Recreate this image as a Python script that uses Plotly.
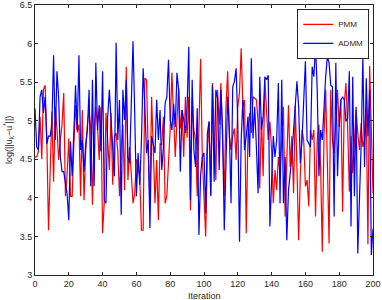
import plotly.graph_objects as go

iterations = list(range(0, 201))

pmm = [4.53, 4.53, 4.60, 5.05, 4.50, 5.40, 5.46, 4.75, 3.58, 4.32,
       5.12, 4.21, 5.18, 4.90, 4.49, 4.75, 4.95, 5.36, 4.02, 4.30,
       4.77, 4.02, 4.02, 4.70, 5.20, 4.85, 4.95, 4.02, 5.14, 3.97,
       4.60, 4.95, 5.14, 4.88, 3.91, 4.90, 5.18, 4.92, 4.49, 5.18,
       3.54, 3.95, 5.10, 4.75, 4.36, 5.10, 4.17, 4.80, 4.84, 4.60,
       4.02, 4.65, 4.95, 4.10, 5.70, 4.23, 4.66, 4.30, 3.93, 4.05,
       4.50, 4.42, 4.25, 3.58, 3.58, 5.55, 5.53, 4.58, 3.93, 5.31,
       4.50, 3.93, 4.49, 3.71, 4.70, 4.69, 5.05, 3.93, 4.02, 4.38,
       4.90, 5.62, 4.98, 4.53, 5.00, 5.42, 4.90, 5.14, 4.53, 5.31,
       4.78, 5.31, 3.84, 5.29, 4.88, 4.75, 4.02, 4.95, 5.80, 4.53,
       4.02, 3.50, 4.60, 4.99, 4.04, 5.49, 4.88, 4.23, 5.40, 4.95,
       5.49, 4.75, 4.02, 5.18, 5.64, 4.80, 4.62, 4.80, 4.90, 4.49,
       5.18, 5.36, 5.94, 5.18, 5.27, 3.54, 4.80, 5.10, 4.84, 5.31,
       5.29, 5.27, 4.99, 4.12, 5.05, 4.28, 5.53, 5.05, 4.75, 4.99,
       4.62, 3.93, 4.36, 4.10, 4.53, 4.32, 4.84, 5.18, 3.76, 4.53,
       5.20, 4.40, 4.80, 4.06, 5.20, 4.40, 3.45, 4.30, 4.88, 4.75,
       4.15, 4.23, 3.89, 4.88, 4.75, 4.88, 3.76, 4.75, 4.95, 4.40,
       3.30, 4.80, 5.40, 4.45, 3.41, 5.40, 4.75, 4.58, 5.05, 5.40,
       4.92, 5.27, 3.82, 5.22, 5.49, 4.92, 4.08, 4.80, 4.32, 4.75,
       5.14, 4.84, 4.62, 4.97, 4.66, 4.75, 5.18, 3.40, 5.71, 4.90,
       4.06]

admm = [5.16, 4.66, 4.62, 5.31, 5.40, 5.10, 5.31, 4.70, 4.80, 4.80,
        4.95, 5.85, 4.75, 5.64, 5.30, 4.53, 4.34, 4.34, 4.19, 4.05,
        3.71, 4.73, 4.28, 4.95, 5.46, 4.88, 5.85, 4.62, 4.75, 4.34,
        4.70, 4.88, 5.40, 4.15, 5.53, 4.15, 5.75, 4.88, 5.20, 4.60,
        5.64, 3.97, 3.93, 5.05, 5.40, 5.01, 4.70, 4.28, 6.01, 4.75,
        5.27, 3.78, 5.40, 5.01, 5.53, 4.53, 4.45, 5.20, 6.03, 5.10,
        4.02, 4.58, 4.17, 4.75, 5.68, 5.18, 4.58, 4.75, 3.61, 4.80,
        4.66, 4.58, 5.27, 4.75, 5.14, 4.36, 4.66, 5.23, 5.31, 5.79,
        5.01, 4.88, 5.22, 4.92, 5.62, 5.40, 4.34, 5.14, 5.01, 4.84,
        5.18, 5.96, 3.97, 5.53, 4.62, 4.40, 5.16, 3.52, 4.30, 4.53,
        4.58, 3.80, 4.84, 4.99, 4.02, 5.46, 4.21, 5.40, 5.29, 4.36,
        5.40, 4.88, 3.58, 4.66, 5.31, 4.88, 3.93, 5.44, 5.51, 5.68,
        4.97, 3.43, 4.75, 5.27, 4.62, 4.80, 5.05, 4.53, 5.81, 4.77,
        5.18, 4.66, 4.06, 5.57, 4.88, 5.05, 5.57, 5.53, 5.59, 3.63,
        4.32, 4.80, 4.53, 4.75, 5.49, 3.93, 5.53, 3.93, 4.53, 3.45,
        4.10, 4.32, 4.53, 4.88, 5.18, 5.51, 5.18, 4.45, 4.75, 5.27,
        5.77, 4.75, 4.70, 4.66, 5.70, 5.57, 5.98, 5.40, 4.28, 4.88,
        4.75, 5.18, 5.57, 5.83, 5.75, 5.46, 5.44, 3.76, 5.75, 4.28,
        4.97, 5.27, 5.31, 5.27, 4.99, 5.03, 5.64, 3.63, 5.57, 4.02,
        5.18, 3.28, 3.95, 4.70, 5.83, 4.40, 5.55, 4.80, 5.40, 3.26,
        3.60]

x_ticks = [0, 20, 40, 60, 80, 100, 120, 140, 160, 180, 200]
y_ticks = [3, 3.5, 4, 4.5, 5, 5.5, 6, 6.5]
y_tick_labels = ["3", "3.5", "4", "4.5", "5", "5.5", "6", "6.5"]

fig = go.Figure()
fig.add_trace(go.Scatter(x=iterations, y=pmm, mode="lines", name="PMM",
                         line=dict(color="#ff0000", width=1.2)))
fig.add_trace(go.Scatter(x=iterations, y=admm, mode="lines", name="ADMM",
                         line=dict(color="#0000ff", width=1.2)))

axis_common = dict(showline=True, linecolor="#262626", linewidth=1, mirror="ticks",
                   ticks="inside", ticklen=3, tickcolor="#262626", showgrid=False,
                   zeroline=False, tickfont=dict(family="Liberation Sans, Arial", size=9, color="#262626"))

fig.update_xaxes(range=[0, 200], tickvals=x_ticks, **axis_common)
fig.update_yaxes(range=[3, 6.5], tickvals=y_ticks, ticktext=y_tick_labels, **axis_common)

fig.update_layout(
    width=382, height=300,
    margin=dict(l=35, r=9, t=5, b=25, autoexpand=False),
    paper_bgcolor="white", plot_bgcolor="white",
    font=dict(family="Liberation Sans, Arial", size=9, color="#262626"),
    showlegend=True,
    legend=dict(x=0.989, y=0.986, xanchor="right", yanchor="top",
                bordercolor="#262626", borderwidth=1, bgcolor="white",
                font=dict(size=8), tracegroupgap=0, itemwidth=30),
    annotations=[
        dict(text="Iteration", xref="paper", yref="paper", x=0.5, y=-0.05,
             xanchor="center", yanchor="top", showarrow=False, font=dict(size=9)),
        dict(text="log(||u<sub>k</sub>−u<sup>*</sup>||)", xref="paper", yref="paper",
             x=-0.08, y=0.5, xanchor="center", yanchor="middle", textangle=-90,
             showarrow=False, font=dict(size=9)),
    ],
)

fig.write_html("out.html", config={"displayModeBar": False},
               post_script="document.body.style.margin='0';document.body.style.padding='0';")
